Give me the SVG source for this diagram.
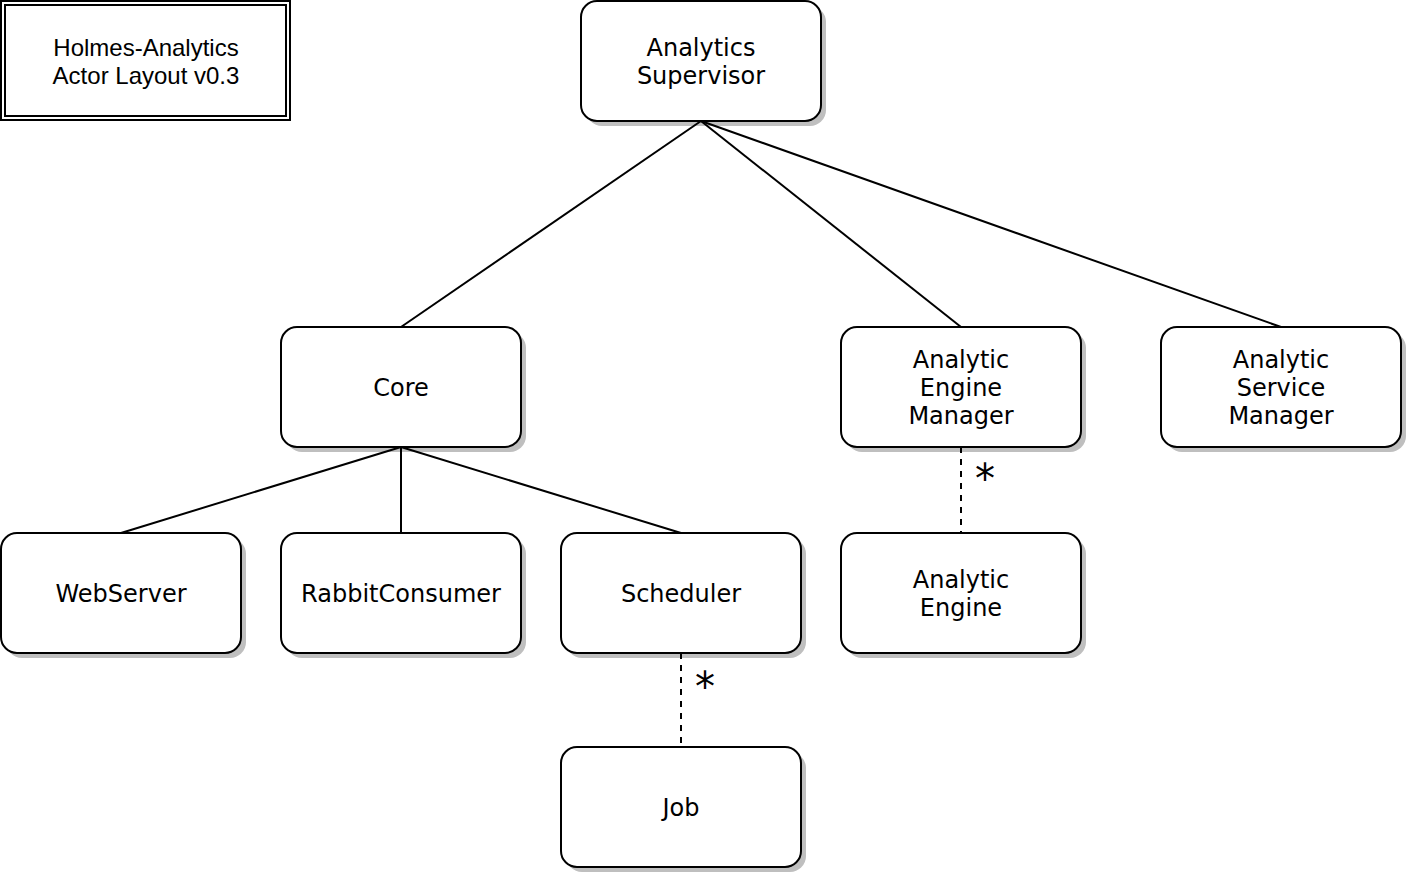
<svg xmlns="http://www.w3.org/2000/svg" width="1406" height="874" viewBox="0 0 1406 874">
<style>
.box{fill:#ffffff;stroke:#000000;stroke-width:2}
.sh{fill:#bfbfbf;stroke:none}
.lbl{font-family:"DejaVu Sans",sans-serif;font-size:24px;fill:#000000;text-anchor:middle}
.ttl{font-family:"Liberation Sans",Arial,sans-serif;font-size:24px;fill:#000000;text-anchor:middle}
.edge{stroke:#000000;stroke-width:2;fill:none}
.dash{stroke-dasharray:6 6}
.mult{font-family:"DejaVu Sans",sans-serif;font-size:40px;fill:#000000;text-anchor:middle}
</style>
<rect width="1406" height="874" fill="#ffffff"/>
<g id="title">
<rect x="1" y="1" width="289" height="119" fill="#ffffff" stroke="#000000" stroke-width="2"/>
<rect x="5" y="5" width="281" height="111" fill="none" stroke="#000000" stroke-width="2"/>
<text class="ttl" x="146" y="56">Holmes-Analytics</text>
<text class="ttl" x="146" y="84">Actor Layout v0.3</text>
</g>
<g id="supervisor">
<rect class="sh" x="586" y="6" width="240" height="120" rx="16"/>
<rect class="box" x="581" y="1" width="240" height="120" rx="16"/>
<text class="lbl" x="701" y="56">Analytics</text>
<text class="lbl" x="701" y="84">Supervisor</text>
</g>
<g id="core">
<rect class="sh" x="286" y="332" width="240" height="120" rx="16"/>
<rect class="box" x="281" y="327" width="240" height="120" rx="16"/>
<text class="lbl" x="401" y="396">Core</text>
</g>
<g id="engine-manager">
<rect class="sh" x="846" y="332" width="240" height="120" rx="16"/>
<rect class="box" x="841" y="327" width="240" height="120" rx="16"/>
<text class="lbl" x="961" y="368">Analytic</text>
<text class="lbl" x="961" y="396">Engine</text>
<text class="lbl" x="961" y="424">Manager</text>
</g>
<g id="service-manager">
<rect class="sh" x="1166" y="332" width="240" height="120" rx="16"/>
<rect class="box" x="1161" y="327" width="240" height="120" rx="16"/>
<text class="lbl" x="1281" y="368">Analytic</text>
<text class="lbl" x="1281" y="396">Service</text>
<text class="lbl" x="1281" y="424">Manager</text>
</g>
<g id="webserver">
<rect class="sh" x="6" y="538" width="240" height="120" rx="16"/>
<rect class="box" x="1" y="533" width="240" height="120" rx="16"/>
<text class="lbl" x="121" y="602">WebServer</text>
</g>
<g id="rabbitconsumer">
<rect class="sh" x="286" y="538" width="240" height="120" rx="16"/>
<rect class="box" x="281" y="533" width="240" height="120" rx="16"/>
<text class="lbl" x="401" y="602">RabbitConsumer</text>
</g>
<g id="scheduler">
<rect class="sh" x="566" y="538" width="240" height="120" rx="16"/>
<rect class="box" x="561" y="533" width="240" height="120" rx="16"/>
<text class="lbl" x="681" y="602">Scheduler</text>
</g>
<g id="engine">
<rect class="sh" x="846" y="538" width="240" height="120" rx="16"/>
<rect class="box" x="841" y="533" width="240" height="120" rx="16"/>
<text class="lbl" x="961" y="588">Analytic</text>
<text class="lbl" x="961" y="616">Engine</text>
</g>
<g id="job">
<rect class="sh" x="566" y="752" width="240" height="120" rx="16"/>
<rect class="box" x="561" y="747" width="240" height="120" rx="16"/>
<text class="lbl" x="681" y="816">Job</text>
</g>
<g id="connectors">
<line class="edge" x1="701" y1="121" x2="401" y2="327"/>
<line class="edge" x1="701" y1="121" x2="961" y2="327"/>
<line class="edge" x1="701" y1="121" x2="1281" y2="327"/>
<line class="edge" x1="401" y1="447" x2="121" y2="533"/>
<line class="edge" x1="401" y1="447" x2="401" y2="533"/>
<line class="edge" x1="401" y1="447" x2="681" y2="533"/>
<line class="edge dash" x1="961" y1="447" x2="961" y2="533"/>
<line class="edge dash" x1="681" y1="653" x2="681" y2="747"/>
<text class="mult" x="985" y="493">*</text>
<text class="mult" x="705" y="701">*</text>
</g>
</svg>
